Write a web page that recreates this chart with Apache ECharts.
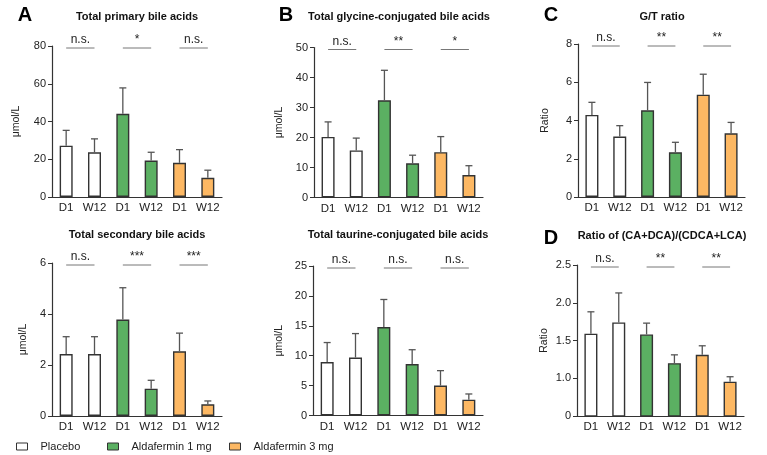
<!DOCTYPE html>
<html lang="en">
<head>
<meta charset="UTF-8">
<title>Bile acids</title>
<script src="https://cdn.jsdelivr.net/npm/echarts@6/dist/echarts.min.js"></script>
<style>
    html, body { margin: 0; padding: 0; background: #fff; }
    #chart { width: 767px; height: 455px; }
</style>
</head>
<body>
<div id="chart"></div>
<script>
    // categories / groups
    const cats = ['D1', 'W12', 'D1', 'W12', 'D1', 'W12'];
    const groups = ['Placebo', 'Aldafermin 1 mg', 'Aldafermin 3 mg'];

    // values (mean, SD), order: placebo D1/W12, 1mg D1/W12, 3mg D1/W12
    const primaryMean = [27.2, 23.7, 44.1, 19.3, 18.1, 10.2];
    const primarySd = [8.1, 7.1, 13.7, 4.4, 7.0, 4.0];
    const glycineMean = [20.2, 15.7, 32.4, 11.4, 15.1, 7.5];
    const glycineSd = [5.0, 4.1, 10.0, 2.7, 5.2, 3.1];
    const gtMean = [4.29, 3.16, 4.53, 2.34, 5.35, 3.33];
    const gtSd = [0.66, 0.57, 1.46, 0.52, 1.07, 0.57];
    const secondaryMean = [2.43, 2.43, 3.78, 1.07, 2.54, 0.46];
    const secondarySd = [0.68, 0.68, 1.25, 0.33, 0.71, 0.13];
    const taurineMean = [8.95, 9.7, 14.8, 8.6, 5.0, 2.65];
    const taurineSd = [3.25, 4.0, 4.6, 2.4, 2.5, 0.95];
    const ratioMean = [1.59, 1.74, 1.58, 1.20, 1.31, 0.955];
    const ratioSd = [0.29, 0.39, 0.15, 0.11, 0.12, 0.065];

    // significance labels
    const primarySig = ['n.s.', '*', 'n.s.'];
    const glycineSig = ['n.s.', '**', '*'];
    const gtSig = ['n.s.', '**', '**'];
    const secondarySig = ['n.s.', '***', '***'];
    const taurineSig = ['n.s.', 'n.s.', 'n.s.'];
    const ratioSig = ['n.s.', '**', '**'];

    const FONT = "'Liberation Sans', Arial, sans-serif";
    const groupFill = ['#ffffff', '#5bb062', '#fdb863'];

    const panels = [
        {title: 'Total primary bile acids', letter: 'A', mean: primaryMean, sd: primarySd, sig: primarySig,
            yname: 'μmol/L', min: 0, max: 80, interval: 20,
            grid: {left: 52, top: 46, width: 170, height: 151}, tx: 137, ty: 17, lx: 25, ly: 15, gap: 30},
        {title: 'Total glycine-conjugated bile acids', letter: 'B', mean: glycineMean, sd: glycineSd, sig: glycineSig,
            yname: 'μmol/L', min: 0, max: 50, interval: 10,
            grid: {left: 314, top: 47.5, width: 169, height: 150}, tx: 399, ty: 17, lx: 286, ly: 15, gap: 29},
        {title: 'G/T ratio', letter: 'C', mean: gtMean, sd: gtSd, sig: gtSig,
            yname: 'Ratio', min: 0, max: 8, interval: 2,
            grid: {left: 578, top: 44, width: 167, height: 153}, tx: 662, ty: 17, lx: 551, ly: 15, gap: 27},
        {title: 'Total secondary bile acids', letter: '', mean: secondaryMean, sd: secondarySd, sig: secondarySig,
            yname: 'μmol/L', min: 0, max: 6, interval: 2,
            grid: {left: 52, top: 263, width: 170, height: 153}, tx: 137, ty: 235, lx: 0, ly: 0, gap: 23},
        {title: 'Total taurine-conjugated bile acids', letter: '', mean: taurineMean, sd: taurineSd, sig: taurineSig,
            yname: 'μmol/L', min: 0, max: 25, interval: 5,
            grid: {left: 313, top: 266, width: 170, height: 149.5}, tx: 398, ty: 235, lx: 0, ly: 0, gap: 28},
        {title: 'Ratio of (CA+DCA)/(CDCA+LCA)', letter: 'D', mean: ratioMean, sd: ratioSd, sig: ratioSig,
            yname: 'Ratio', min: 0.5, max: 2.5, interval: 0.5,
            grid: {left: 577, top: 265, width: 167, height: 151}, tx: 662, ty: 236, lx: 551, ly: 238, gap: 27}
    ];

    const grids = [], xAxes = [], yAxes = [], series = [], graphics = [];

    panels.forEach((p, k) => {
        grids.push(p.grid);
        xAxes.push({
            type: 'category', gridIndex: k, data: cats,
            axisLine: {lineStyle: {color: '#333', width: 1.2}},
            axisTick: {alignWithLabel: true, length: 3, lineStyle: {color: '#333'}},
            axisLabel: {interval: 0, margin: 5, fontSize: 11.5, color: '#222', fontFamily: FONT}
        });
        yAxes.push({
            type: 'value', gridIndex: k, min: p.min, max: p.max, interval: p.interval,
            name: p.yname, nameLocation: 'middle', nameGap: p.gap,
            nameTextStyle: {fontSize: 10.5, color: '#222', fontFamily: FONT},
            axisLine: {show: true, lineStyle: {color: '#333', width: 1.2}},
            axisTick: {show: true, length: 4, lineStyle: {color: '#333'}},
            splitLine: {show: false},
            axisLabel: {
                margin: 6, fontSize: 11, color: '#222', fontFamily: FONT,
                formatter: (v) => p.min === 0.5 ? (v === 0.5 ? '0' : v.toFixed(1)) : String(v)
            }
        });

        // one bar series per treatment group, overlapped on the shared category axis
        groups.forEach((g, gi) => {
            series.push({
                name: g, type: 'bar', xAxisIndex: k, yAxisIndex: k,
                barWidth: 13, barGap: '-100%',
                data: p.mean.map((v, i) => Math.floor(i / 2) === gi ? v : '-'),
                itemStyle: {color: groupFill[gi], borderColor: '#333', borderWidth: 1.4},
                emphasis: {disabled: true}
            });
        });

        // upper error bars
        series.push({
            type: 'custom', xAxisIndex: k, yAxisIndex: k, z: 3, silent: true,
            data: p.mean.map((v, i) => [i, v, p.sd[i]]),
            renderItem: (params, api) => {
                const x = api.value(0), m = api.value(1), s = api.value(2);
                const b = api.coord([x, m]);
                const t = api.coord([x, m + s]);
                const st = {stroke: '#555', lineWidth: 1.3};
                return {
                    type: 'group', children: [
                        {type: 'line', shape: {x1: b[0], y1: b[1], x2: t[0], y2: t[1]}, style: st},
                        {type: 'line', shape: {x1: t[0] - 3.5, y1: t[1], x2: t[0] + 3.5, y2: t[1]}, style: st}
                    ]
                };
            }
        });

        // significance brackets
        series.push({
            type: 'custom', xAxisIndex: k, yAxisIndex: k, z: 4, silent: true,
            data: p.sig.map((s, i) => [2 * i, p.max]),
            renderItem: (params, api) => {
                const i = params.dataIndex;
                const a = api.coord([2 * i, p.max]);
                const b = api.coord([2 * i + 1, p.max]);
                const y = a[1] + 2;
                return {
                    type: 'group', children: [
                        {type: 'line', shape: {x1: a[0], y1: y, x2: b[0], y2: y}, style: {stroke: '#777', lineWidth: 1}},
                        {
                            type: 'text', x: (a[0] + b[0]) / 2, y: y - 2,
                            style: {
                                text: p.sig[i], align: 'center', verticalAlign: 'bottom',
                                fontSize: 12, fill: '#222', fontFamily: FONT
                            }
                        }
                    ]
                };
            }
        });

        graphics.push({
            type: 'text', x: p.tx, y: p.ty,
            style: {text: p.title, align: 'center', verticalAlign: 'middle', fontSize: 11,
                fontWeight: 'bold', fill: '#111', fontFamily: FONT}
        });
        if (p.letter) {
            graphics.push({
                type: 'text', x: p.lx, y: p.ly,
                style: {text: p.letter, align: 'center', verticalAlign: 'middle', fontSize: 20,
                    fontWeight: 'bold', fill: '#000', fontFamily: FONT}
            });
        }
    });

    const legendLeft = [16, 107, 229];
    const legends = groups.map((g, gi) => ({
        data: [g], left: legendLeft[gi], top: 441, padding: 0,
        icon: 'rect', itemWidth: 11, itemHeight: 7,
        itemStyle: {borderColor: '#333', borderWidth: 1},
        textStyle: {fontSize: 11, color: '#222', fontFamily: FONT, padding: [0, 0, 0, 8]},
        selectedMode: false
    }));

    const chart = echarts.init(document.getElementById('chart'));
    chart.setOption({
        animation: false,
        backgroundColor: '#fff',
        grid: grids,
        xAxis: xAxes,
        yAxis: yAxes,
        legend: legends,
        series: series,
        graphic: graphics
    });
</script>
</body>
</html>
